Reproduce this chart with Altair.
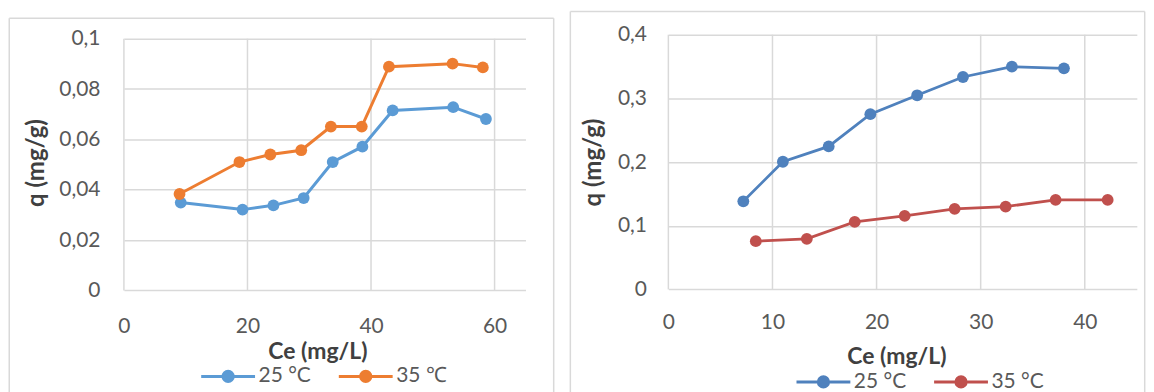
import altair as alt
import pandas as pd

# ---------------- data ----------------
left_ce_25 = [9.2, 19.2, 24.2, 29.1, 33.8, 38.6, 43.5, 53.3, 58.6]
left_q_25 = [0.0349, 0.0321, 0.0338, 0.0367, 0.0510, 0.0571, 0.0715, 0.0728, 0.0681]
left_ce_35 = [9.0, 18.7, 23.7, 28.7, 33.5, 38.5, 42.9, 53.2, 58.1]
left_q_35 = [0.0383, 0.0510, 0.0540, 0.0557, 0.0651, 0.0651, 0.0889, 0.0901, 0.0886]

right_ce_25 = [7.2, 11.0, 15.4, 19.4, 23.9, 28.3, 33.0, 38.0]
right_q_25 = [0.1384, 0.2005, 0.2246, 0.2752, 0.3049, 0.3336, 0.3499, 0.3472]
right_ce_35 = [8.4, 13.3, 17.9, 22.7, 27.5, 32.4, 37.2, 42.2]
right_q_35 = [0.0758, 0.0794, 0.1060, 0.1154, 0.1264, 0.1300, 0.1405, 0.1405]

left_labels = ["25 °C", "35 ℃"]
right_labels = ["25 °C", "35 °C"]
left_colors = ["#5B9BD5", "#ED7D31"]
right_colors = ["#4F81BD", "#C0504D"]

left_xticks = [0, 20, 40, 60]
left_yticks = [0, 0.02, 0.04, 0.06, 0.08, 0.1]
right_xticks = [0, 10, 20, 30, 40]
right_yticks = [0, 0.1, 0.2, 0.3, 0.4]

x_title = "Ce (mg/L)"
y_title = "q (mg/g)"

FONT = "Lato"
GRID = "#D9D9D9"
LABEL = "#595959"
TITLE = "#404040"
SYMBOL = "M-1,0L1,0M-0.19,0A0.19,0.19,0,1,1,0.19,0A0.19,0.19,0,1,1,-0.19,0Z"


def make_df(xa, ya, xb, yb, labels):
    return pd.DataFrame({
        "x": list(xa) + list(xb),
        "y": list(ya) + list(yb),
        "series": [labels[0]] * len(xa) + [labels[1]] * len(xb),
    })


def panel(df, labels, colors, xdom, ydom, xticks, yticks, ytop, w, h,
          frame, ytitle_x, xtitle_x, xtitle_y, ylab_pad, xlab_pad,
          legend_x, legend_y, line_w, pt_size):
    xs = alt.Scale(domain=xdom, nice=False, zero=True)
    ys = alt.Scale(domain=ydom, nice=False, zero=True)
    xaxis = alt.Axis(values=xticks, title=x_title, grid=False, domain=False,
                     ticks=False, labelFlush=False, labelOverlap=False,
                     labelPadding=xlab_pad, labelFontSize=21, labelColor=LABEL,
                     labelFont=FONT, titleFont=FONT, titleFontSize=23,
                     titleFontWeight="bold", titleColor=TITLE,
                     titleX=xtitle_x, titleY=xtitle_y, titleAlign="center",
                     titleBaseline="middle")
    yaxis = alt.Axis(values=yticks, title=y_title, grid=True, gridColor=GRID,
                     gridWidth=1.5, domain=False, ticks=False, labelFlush=False,
                     labelOverlap=False, labelPadding=ylab_pad,
                     labelExpr="replace(format(datum.value, '~g'), '.', ',')",
                     labelFontSize=21, labelColor=LABEL, labelFont=FONT,
                     titleFont=FONT, titleFontSize=24, titleFontWeight="bold",
                     titleColor=TITLE, titleX=ytitle_x, titleY=h / 2,
                     titleAngle=270, titleAlign="center", titleBaseline="middle")
    leg = alt.Legend(title=None, orient="none", legendX=legend_x, legendY=legend_y,
                     direction="horizontal", symbolType=SYMBOL, symbolSize=2916,
                     symbolStrokeWidth=3, labelFontSize=21, labelColor=LABEL,
                     labelFont=FONT, labelOffset=2, columnPadding=21, padding=0)
    cs = alt.Scale(domain=labels, range=colors)

    grid_df = pd.DataFrame({"x": xticks})
    vgrid = alt.Chart(grid_df).mark_rule(color=GRID, strokeWidth=1.5).encode(
        x=alt.X("x:Q", scale=xs, axis=xaxis),
        y=alt.datum(0, scale=ys, axis=yaxis),
        y2=alt.datum(ytop),
    )
    line = alt.Chart(df).mark_line(strokeWidth=line_w).encode(
        x=alt.X("x:Q", scale=xs, axis=xaxis),
        y=alt.Y("y:Q", scale=ys, axis=yaxis),
        stroke=alt.Stroke("series:N", scale=cs, legend=leg),
    )
    pts = alt.Chart(df).mark_circle(size=pt_size, opacity=1).encode(
        x=alt.X("x:Q", scale=xs, axis=xaxis),
        y=alt.Y("y:Q", scale=ys, axis=yaxis),
        fill=alt.Fill("series:N", scale=cs, legend=leg),
    )
    fx0, fx1, fy0, fy1 = frame
    one = pd.DataFrame({"d": [0]})
    fcol = "#D9D9D9"
    f_left = alt.Chart(one).mark_rule(color=fcol, strokeWidth=1.5).encode(
        x=alt.value(fx0), y=alt.value(fy0), y2=alt.value(fy1))
    f_right = alt.Chart(one).mark_rule(color=fcol, strokeWidth=1.5).encode(
        x=alt.value(fx1), y=alt.value(fy0), y2=alt.value(fy1))
    f_top = alt.Chart(one).mark_rule(color=fcol, strokeWidth=1.5).encode(
        x=alt.value(fx0), x2=alt.value(fx1), y=alt.value(fy0))
    return alt.layer(vgrid, line, pts, f_left, f_right, f_top).properties(
        width=w, height=h)


left_df = make_df(left_ce_25, left_q_25, left_ce_35, left_q_35, left_labels)
right_df = make_df(right_ce_25, right_q_25, right_ce_35, right_q_35, right_labels)

left = panel(left_df, left_labels, left_colors, [0, 65], [0, 0.101585],
             left_xticks, left_yticks, 0.1, 402.7, 256.4,
             (-115, 431, -16.6, 361.7), -88, 194, 61.5, 24, 25,
             76, 314, 3, 140)
right = panel(right_df, right_labels, right_colors, [0, 45], [0, 0.4],
              right_xticks, right_yticks, 0.4, 469.8, 255.4,
              (-98.3, 477.7, -23.3, 361.7), -75.3, 228.7, 67.5, 22, 22,
              127, 319.5, 2.75, 140)

chart = alt.hconcat(left, right, spacing=14).resolve_scale(
    x="independent", y="independent", fill="independent", stroke="independent"
).resolve_legend(fill="independent", stroke="independent").properties(
    padding={"left": 0.25, "top": 1.25, "right": 0, "bottom": 0},
    background="white",
).configure_view(stroke=None)

chart.save("out.html", embed_options={"renderer": "svg", "actions": False})
